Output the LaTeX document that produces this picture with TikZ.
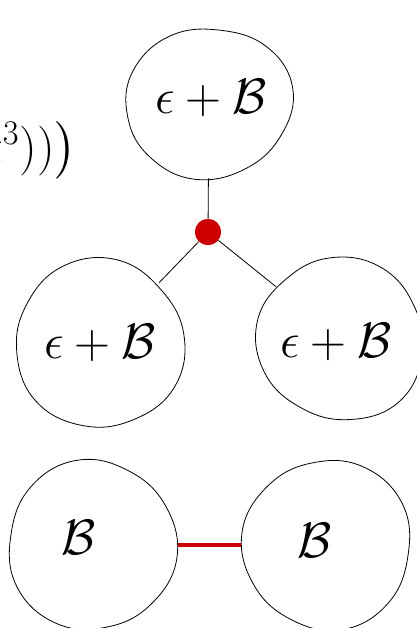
\documentclass[tikz,border=0pt]{standalone}
\usepackage{amsmath}
\usepackage{amssymb}
\usepackage{xcolor}
\usepackage{tikz}
\usetikzlibrary{positioning, shapes}

\definecolor{vertred}{RGB}{204,0,0}

% wobbly outline around a blob node: center, x-radius, y-radius, turn
\newcommand{\wobble}[4]{%
  \begin{scope}[shift={(#1)}, rotate=#4, xscale=#2, yscale=#3]
    \draw[thin] plot[smooth cycle, tension=0.7] coordinates {(0:1) (36:0.97) (72:0.99) (108:1.02) (144:0.98) (180:0.97) (216:1.01) (252:1.02) (288:0.97) (324:0.99)};
  \end{scope}}

\begin{document}
\begin{tikzpicture}[x=0.5pt, y=-0.5pt, thin,
    blob/.style={ellipse, inner sep=0pt},
    lbl/.style={font=\fontsize{24}{29}\selectfont},
    vertex/.style={circle, fill=vertred, inner sep=0pt, minimum size=13pt}]
    \clip (0,0) rectangle (417,628);

    \node[lbl, anchor=base east] (tail) at (84,163) {$\epsilon^3))\bigr)$};

    % upper diagram
    \node[blob, minimum width=85pt, minimum height=75pt] (top) at (209,103) {};
    \node[lbl] (toptext) at (211,98) {$\epsilon+\mathcal{B}$};
    \node[vertex] (dot) at (208,232) {};
    \node[blob, minimum width=86pt, minimum height=84pt] (left) at (100,344) {};
    \node[lbl] (lefttext) at (100,343) {$\epsilon+\mathcal{B}$};
    \node[blob, minimum width=82pt, minimum height=84pt] (right) at (341,339) {};
    \node[lbl] (righttext) at (336,342) {$\epsilon+\mathcal{B}$};

    \wobble{top}{85}{75}{10}
    \wobble{left}{86}{84}{-30}
    \wobble{right}{82}{84}{60}

    \draw (top) -- (dot);
    \draw (dot) -- (left);
    \draw (dot) -- (right);
    \node[vertex] at (dot) {};

    % lower diagram
    \node[blob, minimum width=86pt, minimum height=84pt] (lower) at (92,545) {};
    \node[lbl] (lowertext) at (79,537) {$\mathcal{B}$};
    \node[blob, minimum width=86pt, minimum height=84pt] (upper) at (327,545) {};
    \node[lbl] (uppertext) at (315,540) {$\mathcal{B}$};

    \wobble{lower}{86}{84}{100}
    \wobble{upper}{86}{84}{-80}

    \draw[vertred, line width=2.2pt] (lower) -- (upper);
\end{tikzpicture}
\end{document}
